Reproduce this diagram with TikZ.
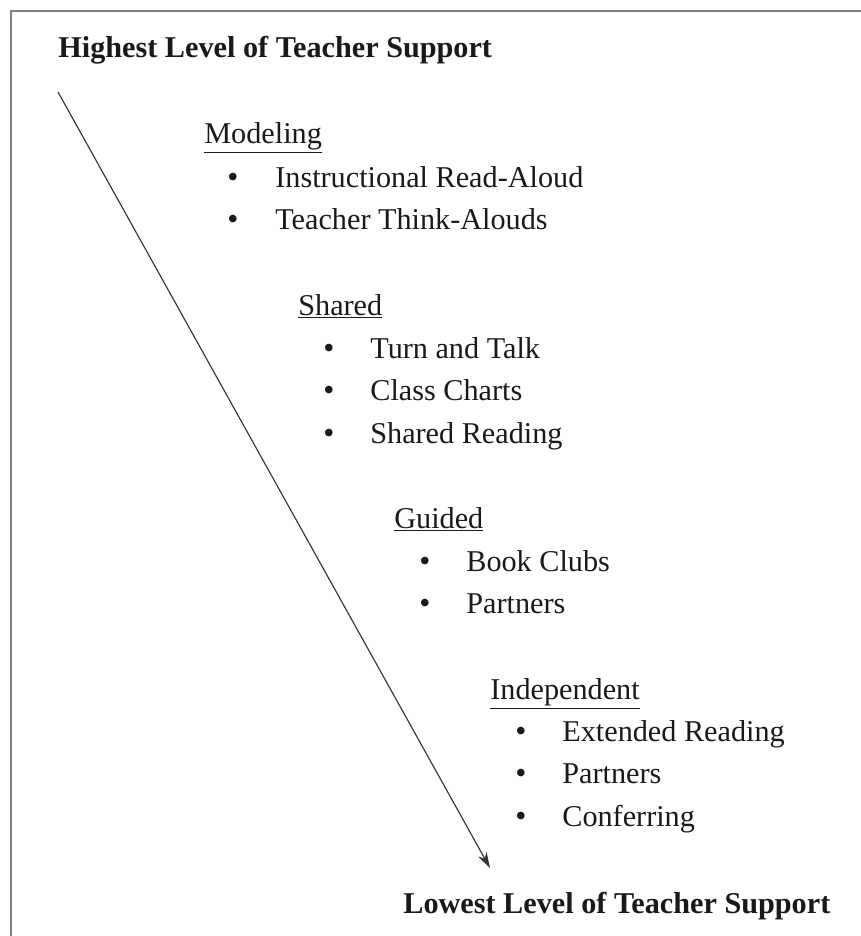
\documentclass[tikz,border=0pt]{standalone}
\usepackage{fontspec}
\setmainfont{Liberation Serif}
\usetikzlibrary{arrows.meta,positioning}

\begin{document}
\begin{tikzpicture}[
  x=0.02cm, y=-0.02cm,
  every node/.style={inner sep=0pt, anchor=base west, font=\fontsize{17.2}{20}\selectfont, text=black!90},
  level/.style={},
  item/.style={},
  dot/.style={font=\fontsize{18}{20}\selectfont},
  title/.style={font=\fontsize{17.2}{20}\selectfont\bfseries},
  support/.style={draw=black!80, -{Stealth[length=9pt, width=5.5pt]}, line width=0.65pt}
]
\useasboundingbox (0,0) rectangle (861,936);
% frame (top and left side only)
\draw[black!50, line width=1.6pt] (11,936) -- (11,11) -- (861,11);

\node[title] (high) at (58,58) {Highest Level of Teacher Support};
\node[title] (low) at (403,913) {Lowest Level of Teacher Support};

% modeling
\node[level] (model) at (204,143) {\underline{Modeling}};
\node[item] (m1) at (275,187) {Instructional Read-Aloud};
\node[item] (m2) at (275,229) {Teacher Think-Alouds};
\foreach \n in {m1,m2} \node[dot] at (227,0 |- \n.base) {\textbullet};

% shared
\node[level] (shared) at (298,315) {\underline{Shared}};
\node[item] (s1) at (370,358) {Turn and Talk};
\node[item] (s2) at (370,400) {Class Charts};
\node[item] (s3) at (370,443) {Shared Reading};
\foreach \n in {s1,s2,s3} \node[dot] at (323,0 |- \n.base) {\textbullet};

% guided
\node[level] (guided) at (394,528) {\underline{Guided}};
\node[item] (g1) at (466,571) {Book Clubs};
\node[item] (g2) at (466,613) {Partners};
\foreach \n in {g1,g2} \node[dot] at (419,0 |- \n.base) {\textbullet};

% independent
\node[level] (indep) at (490,699) {\underline{Independent}};
\node[item] (i1) at (562,741) {Extended Reading};
\node[item] (i2) at (562,783) {Partners};
\node[item] (i3) at (562,826) {Conferring};
\foreach \n in {i1,i2,i3} \node[dot] at (515,0 |- \n.base) {\textbullet};

\coordinate (top) at (58,92);
\coordinate (bottom) at (490,868);
\draw[support] (top) -- (bottom);
\end{tikzpicture}
\end{document}
